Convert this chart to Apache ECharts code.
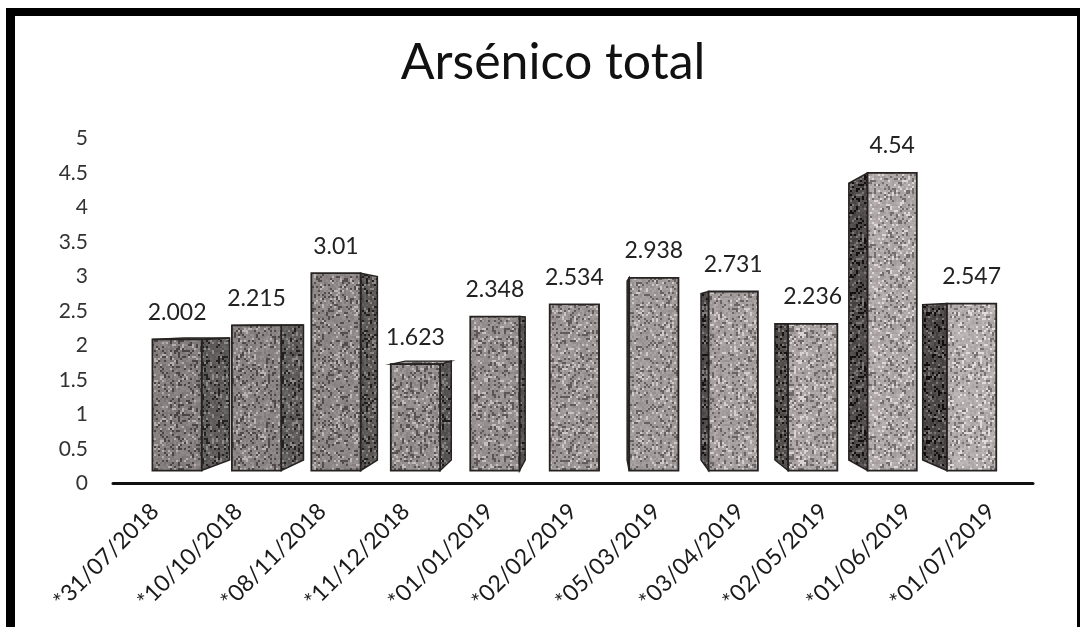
<!DOCTYPE html>
<html>
<head>
<meta charset="utf-8">
<title>Arsénico total</title>
<script src="https://cdn.jsdelivr.net/npm/echarts@6/dist/echarts.min.js"></script>
<style>
  html, body { margin: 0; padding: 0; background: #ffffff; }
  #chart { width: 1080px; height: 627px; }
</style>
</head>
<body>
<div id="chart"></div>
<script>
// Sampling dates and total arsenic results
const fechas = ['*31/07/2018', '*10/10/2018', '*08/11/2018', '*11/12/2018', '*01/01/2019',
  '*02/02/2019', '*05/03/2019', '*03/04/2019', '*02/05/2019', '*01/06/2019', '*01/07/2019'];
const arsenico = [2.002, 2.215, 3.01, 1.623, 2.348, 2.534, 2.938, 2.731, 2.236, 4.54, 2.547];
const yMin = 0;
const yMax = 5;
const yStep = 0.5;

const FONT = 'Lato, "Open Sans", sans-serif';

// Simple 3D look: the front faces sit slightly behind the axis plane,
// and each bar's back face recedes toward a second vanishing point.
const AXIS_VP = [600, 224];
const FRONT_DEPTH = 0.95;
const FACE_VP = [600, 320];
const BACK_DEPTH = 0.93;

function toward(p, vp, k) {
  return [vp[0] + (p[0] - vp[0]) * k, vp[1] + (p[1] - vp[1]) * k];
}

// Deterministic grain so the bars look like printed halftone
function hash(x, y, s) {
  const v = Math.sin(x * 12.9898 + y * 78.233 + s * 37.719) * 43758.5453;
  return v - Math.floor(v);
}
function grainTile(r, g, b, seed) {
  const size = 64;
  const cell = 2;
  const c = document.createElement('canvas');
  c.width = size; c.height = size;
  const ctx = c.getContext('2d');
  for (let y = 0; y < size; y += cell) {
    for (let x = 0; x < size; x += cell) {
      const n = hash(x, y, seed);
      let d = (n - 0.5) * 36;
      if (n < 0.17) d = -58;
      else if (n > 0.87) d = 48;
      const cl = v => Math.max(0, Math.min(255, Math.round(v + d)));
      ctx.fillStyle = 'rgb(' + cl(r) + ',' + cl(g) + ',' + cl(b) + ')';
      ctx.fillRect(x, y, cell, cell);
    }
  }
  return { image: c, repeat: 'repeat' };
}
function mix(a, b, t) { return Math.round(a + (b - a) * t); }

const n = fechas.length;
const frontFills = [];
const sideFills = [];
const topFills = [];
for (let i = 0; i < n; i++) {
  const t = i / (n - 1);
  const f = mix(132, 178, t);
  const s = mix(96, 76, t);
  frontFills.push(grainTile(f, f - 5, f - 6, i + 1));
  sideFills.push(grainTile(s, s - 4, s - 4, i + 31));
  topFills.push(grainTile(f + 12, f + 8, f + 7, i + 61));
}

const EDGE = '#262222';

function renderBar(params, api) {
  const idx = api.value(0);
  const val = api.value(1);
  const top = api.coord([idx, val]);
  const base = api.coord([idx, 0]);
  const half = api.size([1, 0])[0] * 0.31;

  const F = [
    [top[0] - half, top[1]], [top[0] + half, top[1]],
    [top[0] + half, base[1]], [top[0] - half, base[1]]
  ].map(p => toward(p, AXIS_VP, FRONT_DEPTH));
  const B = F.map(p => toward(p, FACE_VP, BACK_DEPTH));

  const children = [];
  // side face facing the viewer
  if (F[1][0] < FACE_VP[0]) {
    children.push({
      type: 'polygon',
      shape: { points: [F[1], B[1], B[2], F[2]] },
      style: { fill: sideFills[idx], stroke: EDGE, lineWidth: 1.5 }
    });
  } else if (F[0][0] > FACE_VP[0]) {
    children.push({
      type: 'polygon',
      shape: { points: [F[0], B[0], B[3], F[3]] },
      style: { fill: sideFills[idx], stroke: EDGE, lineWidth: 1.5 }
    });
  }
  // top face, visible only below the horizon
  if (F[0][1] > FACE_VP[1]) {
    children.push({
      type: 'polygon',
      shape: { points: [F[0], F[1], B[1], B[0]] },
      style: { fill: topFills[idx], stroke: EDGE, lineWidth: 1.2 }
    });
  }
  // front face
  children.push({
    type: 'polygon',
    shape: { points: F },
    style: { fill: frontFills[idx], stroke: EDGE, lineWidth: 1.8 }
  });
  // value label
  children.push({
    type: 'text',
    style: {
      text: String(arsenico[idx]),
      x: (F[0][0] + F[1][0]) / 2,
      y: F[0][1] - 27,
      align: 'center',
      verticalAlign: 'middle',
      font: '23px ' + FONT,
      fill: '#222222'
    }
  });
  return { type: 'group', children: children };
}

const chart = echarts.init(document.getElementById('chart'), null, { renderer: 'canvas' });
chart.setOption({
  animation: false,
  backgroundColor: '#ffffff',
  title: {
    text: 'Arsénico total',
    left: 548,
    top: 33,
    textAlign: 'center',
    textStyle: { fontFamily: FONT, fontSize: 50, fontWeight: 'normal', color: '#111111' }
  },
  grid: { left: 113, right: 47, top: 138.5, bottom: 143.5, containLabel: false },
  xAxis: {
    type: 'category',
    data: fechas,
    axisLine: { show: true, lineStyle: { color: '#111111', width: 3 } },
    axisTick: { show: false },
    axisLabel: {
      rotate: 45,
      margin: 24,
      interval: 0,
      fontFamily: FONT,
      fontSize: 23,
      color: '#1a1a1a'
    },
    splitLine: { show: false }
  },
  yAxis: {
    type: 'value',
    min: yMin,
    max: yMax,
    interval: yStep,
    axisLine: { show: false },
    axisTick: { show: false },
    splitLine: { show: false },
    axisLabel: { margin: 25, fontFamily: FONT, fontSize: 21, color: '#333333' }
  },
  series: [{
    type: 'custom',
    renderItem: renderBar,
    data: arsenico.map((v, i) => [i, v]),
    encode: { x: 0, y: 1 },
    clip: false
  }],
  graphic: [
    { type: 'rect', shape: { x: 6, y: 8, width: 1074, height: 8 }, style: { fill: '#000000' }, z: 100 },
    { type: 'rect', shape: { x: 6, y: 8, width: 9, height: 619 }, style: { fill: '#000000' }, z: 100 },
    { type: 'rect', shape: { x: 1077, y: 8, width: 3, height: 619 }, style: { fill: '#000000' }, z: 100 }
  ]
});
</script>
</body>
</html>
